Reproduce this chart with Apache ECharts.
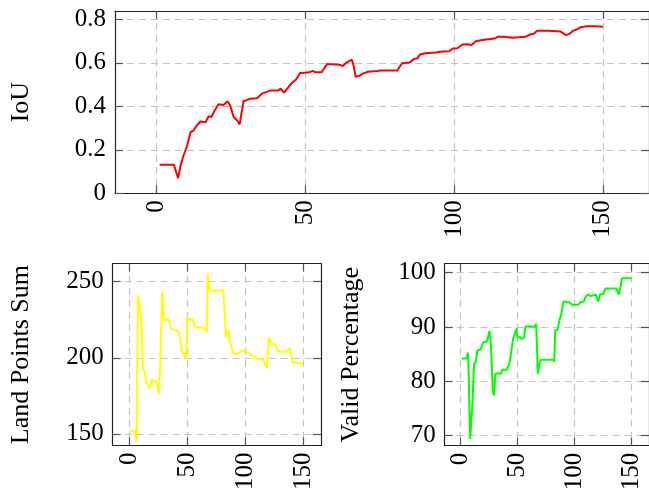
<!DOCTYPE html>
<html>
<head>
<meta charset="utf-8">
<script src="https://cdn.jsdelivr.net/npm/echarts@6.0.0/dist/echarts.min.js"></script>
<style>
  html, body { margin: 0; padding: 0; background: #fff; }
  #chart { width: 649px; height: 495px; }
</style>
</head>
<body>
<div id="chart"></div>
<script>
// tick labels
const xTicks = [0, 50, 100, 150];
const iouTicks = [0, 0.2, 0.4, 0.6, 0.8];
const landTicks = [150, 200, 250];
const validTicks = [70, 80, 90, 100];

// IoU (red)
const iouX = [1, 5.8, 7.2, 8, 8.9, 10.3, 11.4, 12.3, 13.4, 14.7, 16.4, 17.5, 18.4, 19.4, 20.8, 22.5, 23.8, 24.7, 25.9, 27, 27.9, 29.2, 30.1, 31.4, 33.7, 35.4, 37, 38.1, 40.9, 41.7, 42.8, 43.9, 45.4, 46.8, 48.2, 49.8, 51.3, 52.4, 53.5, 55.4, 57.3, 61.5, 62.6, 63.8, 65.6, 66.2, 66.9, 68.2, 69.3, 71, 74.3, 75.2, 81, 81.6, 82.5, 85, 85.9, 86.6, 87.7, 88.5, 90.3, 93.9, 96.1, 98.3, 99.7, 101.1, 102.8, 104.4, 105.9, 107.3, 109.5, 112.8, 113.9, 114.8, 116.7, 119.5, 121.7, 124, 125.6, 126.8, 127.9, 131.8, 135.7, 136.6, 137.6, 138.8, 140.1, 141.2, 142.4, 144.6, 147.9, 150];
const iouY = [0.131, 0.131, 0.069, 0.125, 0.168, 0.221, 0.282, 0.287, 0.31, 0.33, 0.327, 0.354, 0.351, 0.378, 0.409, 0.406, 0.423, 0.404, 0.351, 0.336, 0.317, 0.424, 0.427, 0.435, 0.437, 0.458, 0.466, 0.472, 0.473, 0.481, 0.463, 0.481, 0.507, 0.522, 0.553, 0.554, 0.556, 0.563, 0.556, 0.556, 0.594, 0.591, 0.585, 0.601, 0.614, 0.588, 0.536, 0.541, 0.55, 0.559, 0.562, 0.565, 0.565, 0.58, 0.598, 0.601, 0.611, 0.618, 0.621, 0.638, 0.644, 0.647, 0.652, 0.653, 0.666, 0.667, 0.684, 0.685, 0.682, 0.699, 0.705, 0.71, 0.713, 0.72, 0.72, 0.715, 0.717, 0.72, 0.73, 0.733, 0.747, 0.747, 0.744, 0.736, 0.727, 0.733, 0.748, 0.753, 0.763, 0.768, 0.768, 0.766];

// Land Points Sum (yellow)
const landX = [1, 5.2, 6.6, 7.8, 8.9, 10.9, 12.3, 13.8, 14.7, 16.7, 18.1, 19.5, 21.6, 23.8, 25.6, 26.7, 28.7, 30.2, 31.9, 33.9, 36.8, 41.1, 43.4, 45.4, 47.4, 49.1, 50.3, 52.6, 54.9, 56.9, 61.2, 65.5, 67, 67.8, 69.2, 72.7, 81.3, 82.5, 83.6, 85.6, 87.1, 88.5, 89.9, 94.2, 97.1, 100, 102.8, 105.7, 110, 115.8, 118.7, 120.7, 123, 125.3, 128.7, 135.9, 138.2, 141.1, 144.6, 146, 150];
const landY = [152, 152, 144.5, 241, 236.6, 219, 192.8, 190.6, 184, 181.8, 180, 186.2, 184.5, 184.5, 176.3, 190.6, 243.2, 224.6, 224.6, 225.3, 219, 218, 216.4, 205, 202.9, 199.1, 226.8, 224.6, 225.3, 220.2, 220.2, 219, 216.9, 255.3, 245.4, 244.1, 244.3, 230, 213.6, 218, 210.3, 209.2, 202.6, 202.6, 204.9, 204.2, 203.7, 201.6, 199.3, 198.7, 193.2, 213.6, 209.2, 209.2, 204.2, 204.2, 206.4, 197.2, 196.7, 195.7, 195.7];

// Valid Percentage (green)
const validX = [1, 5.2, 6.6, 8.4, 10.3, 11.8, 13.3, 14.7, 17.6, 19.9, 23.3, 25.3, 26.7, 28.2, 29.3, 30.5, 33.4, 35.3, 36.8, 40.5, 42.8, 44.8, 46.3, 49.1, 50, 52.1, 53.4, 55.8, 56.9, 65.5, 66.4, 67.8, 70, 72.2, 81.4, 82.2, 83.1, 85.1, 87.1, 88.3, 90.3, 95.7, 98, 103.2, 105.2, 108.1, 110.1, 112.4, 114.4, 115.3, 118.7, 121, 122.4, 125.3, 127.3, 136.8, 138.8, 139.7, 141.7, 150];
const validY = [84.2, 84.2, 85.3, 69.4, 75.6, 83.2, 83.6, 85.7, 85.9, 87.2, 87.4, 89.3, 86.6, 78.3, 77.4, 81.4, 81.5, 81.4, 82.2, 82.1, 83.2, 86, 88, 89.7, 88, 88.2, 87.8, 88, 90.1, 90.1, 90.6, 81.4, 83.9, 84, 84, 83.6, 89.4, 89.5, 91.5, 92.2, 94.7, 94.5, 94.1, 94.1, 94.6, 94.7, 95.7, 96, 95.7, 96, 96, 94.7, 96, 96.1, 97.1, 97.1, 96, 96.4, 99, 99];

const zip = (xs, ys) => xs.map((x, i) => [x, ys[i]]);

const FONT = 'Liberation Serif';
const boxLine = { show: true, onZero: false, lineStyle: { color: '#222', width: 1.2 } };
const tickStyle = { color: '#555', width: 1.2 };
const gridStyle = { show: true, lineStyle: { color: '#c4c4c4', width: 1.2, type: [7, 5] } };

function xAxes(gi) {
  return [
    { type: 'value', gridIndex: gi, min: -14, max: 165.5, position: 'bottom',
      axisLine: boxLine,
      axisTick: { show: true, inside: true, length: 8, customValues: xTicks, lineStyle: tickStyle },
      axisLabel: { customValues: xTicks, rotate: 90, margin: 7, fontFamily: FONT, fontSize: 25, color: '#000' },
      splitLine: Object.assign({ customValues: xTicks }, gridStyle) },
    { type: 'value', gridIndex: gi, min: -14, max: 165.5, position: 'top',
      axisLine: boxLine,
      axisTick: { show: true, inside: true, length: 8, customValues: xTicks, lineStyle: tickStyle },
      axisLabel: { show: false }, splitLine: { show: false } }
  ];
}

function yAxes(gi, min, max, ticks, name, gap) {
  return [
    { type: 'value', gridIndex: gi, min: min, max: max, position: 'left',
      name: name, nameLocation: 'middle', nameGap: gap,
      nameTextStyle: { fontFamily: FONT, fontSize: 26, color: '#000' },
      axisLine: boxLine,
      axisTick: { show: true, inside: true, length: 8, customValues: ticks, lineStyle: tickStyle },
      axisLabel: { customValues: ticks, margin: 9, fontFamily: FONT, fontSize: 25, color: '#000' },
      splitLine: Object.assign({ customValues: ticks }, gridStyle) },
    { type: 'value', gridIndex: gi, min: min, max: max, position: 'right',
      axisLine: boxLine,
      axisTick: { show: true, inside: true, length: 8, customValues: ticks, lineStyle: tickStyle },
      axisLabel: { show: false }, splitLine: { show: false } }
  ];
}

const chart = echarts.init(document.getElementById('chart'));
chart.setOption({
  animation: false,
  grid: [
    { left: 114, top: 11, width: 536, height: 182.3 },
    { left: 112.7, top: 263.7, width: 208.3, height: 181.8 },
    { left: 444.7, top: 263.7, width: 208.6, height: 182 }
  ],
  xAxis: [].concat(xAxes(0), xAxes(1), xAxes(2)),
  yAxis: [].concat(
    yAxes(0, 0, 0.838, iouTicks, 'IoU', 81),
    yAxes(1, 142.4, 261.8, landTicks, 'Land Points Sum', 79),
    yAxes(2, 68.16, 101.66, validTicks, 'Valid Percentage', 81)
  ),
  series: [
    { type: 'line', xAxisIndex: 0, yAxisIndex: 0, data: zip(iouX, iouY), showSymbol: false,
      lineStyle: { color: '#ff0000', width: 2 } },
    { type: 'line', xAxisIndex: 2, yAxisIndex: 2, data: zip(landX, landY), showSymbol: false,
      lineStyle: { color: '#ffff00', width: 2 } },
    { type: 'line', xAxisIndex: 4, yAxisIndex: 4, data: zip(validX, validY), showSymbol: false,
      lineStyle: { color: '#00ff00', width: 2 } }
  ]
});
</script>
</body>
</html>
